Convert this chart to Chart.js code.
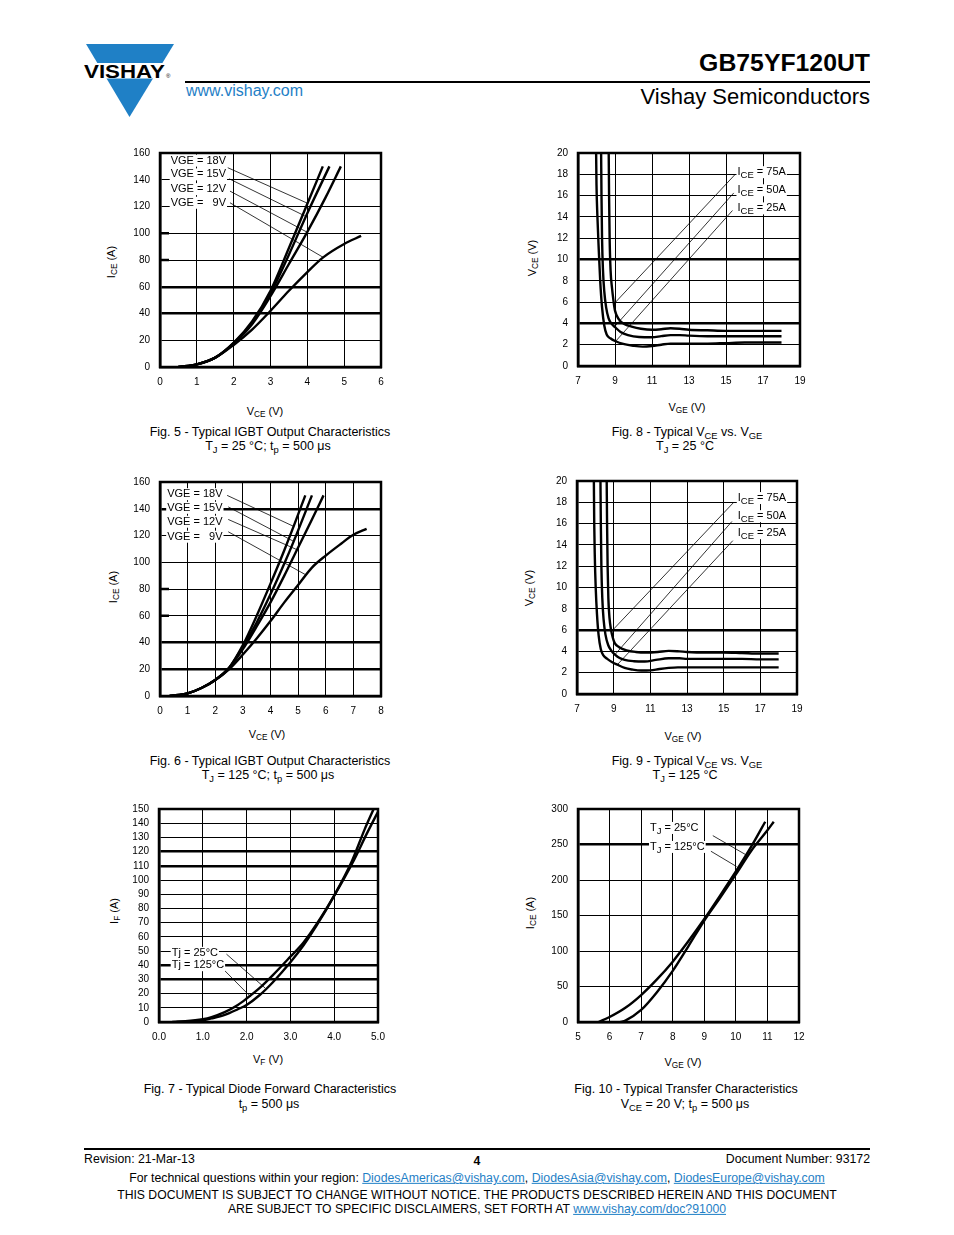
<!DOCTYPE html>
<html><head><meta charset="utf-8">
<script src="https://cdn.jsdelivr.net/npm/chart.js@4.4.1/dist/chart.umd.min.js"></script>
<style>
body{margin:0;background:#fff;width:954px;height:1235px;position:relative;font-family:"Liberation Sans",Arial,Helvetica,sans-serif;color:#000;overflow:hidden}
.t{position:absolute;white-space:nowrap;line-height:1}
.cc{transform:translate(-50%,-50%)}
.rc{transform:translate(-100%,-50%)}
.lc{transform:translate(0,-50%)}
.rot{transform:translate(-50%,-50%) rotate(-90deg)}
.s{font-size:0.75em;position:relative;top:0.3em}
.ax{font-size:11px}
.cap{font-size:12.5px;text-align:center}
.blue{color:#1f80c6}
a{color:#1f80c6;text-decoration:underline}
.hr{position:absolute;background:#000}
</style></head><body>

<!-- header -->
<svg style="position:absolute;left:0;top:0" width="200" height="125">
  <polygon points="86,44 174,44 129.5,117" fill="#1f80c6"/>
  <rect x="80" y="63" width="100" height="15.5" fill="#fff"/>
  <text x="84" y="78" font-family="Liberation Sans, Arial, sans-serif" font-weight="bold" font-size="18" textLength="81" lengthAdjust="spacingAndGlyphs">VISHAY</text>
  <text x="166" y="78" font-family="Liberation Sans, Arial, sans-serif" font-size="6">®</text>
</svg>
<div class="hr" style="left:185px;top:81px;width:685px;height:2px"></div>
<div class="t lc blue" style="left:186px;top:91px;font-size:16px">www.vishay.com</div>
<div class="t rc" style="left:870px;top:63px;font-size:24.8px;font-weight:bold">GB75YF120UT</div>
<div class="t rc" style="left:870px;top:97px;font-size:22px">Vishay Semiconductors</div>

<!-- axis titles -->
<div class="t cc ax" style="left:265px;top:412px">V<span class="s">CE</span> (V)</div>
<div class="t rot ax" style="left:112px;top:262px">I<span class="s">CE</span> (A)</div>
<div class="t cc ax" style="left:687px;top:408px">V<span class="s">GE</span> (V)</div>
<div class="t rot ax" style="left:533px;top:258px">V<span class="s">CE</span> (V)</div>
<div class="t cc ax" style="left:267px;top:735px">V<span class="s">CE</span> (V)</div>
<div class="t rot ax" style="left:114px;top:587px">I<span class="s">CE</span> (A)</div>
<div class="t cc ax" style="left:683px;top:737px">V<span class="s">GE</span> (V)</div>
<div class="t rot ax" style="left:530px;top:588px">V<span class="s">CE</span> (V)</div>
<div class="t cc ax" style="left:268px;top:1060px">V<span class="s">F</span> (V)</div>
<div class="t rot ax" style="left:115px;top:911px">I<span class="s">F</span> (A)</div>
<div class="t cc ax" style="left:683px;top:1063px">V<span class="s">GE</span> (V)</div>
<div class="t rot ax" style="left:531px;top:913px">I<span class="s">CE</span> (A)</div>

<!-- captions -->
<div class="t cc cap" style="left:270px;top:432px">Fig. 5 - Typical IGBT Output Characteristics</div>
<div class="t cc cap" style="left:268px;top:446px">T<span class="s">J</span> = 25 °C; t<span class="s">p</span> = 500 μs</div>
<div class="t cc cap" style="left:687px;top:432px">Fig. 8 - Typical V<span class="s">CE</span> vs. V<span class="s">GE</span></div>
<div class="t cc cap" style="left:685px;top:446px">T<span class="s">J</span> = 25 °C</div>
<div class="t cc cap" style="left:270px;top:761px">Fig. 6 - Typical IGBT Output Characteristics</div>
<div class="t cc cap" style="left:268px;top:775px">T<span class="s">J</span> = 125 °C; t<span class="s">p</span> = 500 μs</div>
<div class="t cc cap" style="left:687px;top:761px">Fig. 9 - Typical V<span class="s">CE</span> vs. V<span class="s">GE</span></div>
<div class="t cc cap" style="left:685px;top:775px">T<span class="s">J</span> = 125 °C</div>
<div class="t cc cap" style="left:270px;top:1089px">Fig. 7 - Typical Diode Forward Characteristics</div>
<div class="t cc cap" style="left:269px;top:1104px">t<span class="s">p</span> = 500 μs</div>
<div class="t cc cap" style="left:686px;top:1089px">Fig. 10 - Typical Transfer Characteristics</div>
<div class="t cc cap" style="left:685px;top:1104px">V<span class="s">CE</span> = 20 V; t<span class="s">p</span> = 500 μs</div>

<!-- footer -->
<div class="hr" style="left:84px;top:1148px;width:786px;height:2px"></div>
<div class="t lc" style="left:84px;top:1159px;font-size:12.3px">Revision: 21-Mar-13</div>
<div class="t cc" style="left:477px;top:1161px;font-size:12.3px;font-weight:bold">4</div>
<div class="t rc" style="left:870px;top:1159px;font-size:12.3px">Document Number: 93172</div>
<div class="t cc" style="left:477px;top:1178px;font-size:12.3px">For technical questions within your region: <a>DiodesAmericas@vishay.com</a>, <a>DiodesAsia@vishay.com</a>, <a>DiodesEurope@vishay.com</a></div>
<div class="t cc" style="left:477px;top:1195px;font-size:12.2px">THIS DOCUMENT IS SUBJECT TO CHANGE WITHOUT NOTICE. THE PRODUCTS DESCRIBED HEREIN AND THIS DOCUMENT</div>
<div class="t cc" style="left:477px;top:1209px;font-size:12.2px">ARE SUBJECT TO SPECIFIC DISCLAIMERS, SET FORTH AT <a>www.vishay.com/doc?91000</a></div>

<script>
const FONT = '"Liberation Sans", Arial, Helvetica, sans-serif';

// ---------- Fig. 5 : IGBT output, TJ = 25 °C ----------
const fig5XTicks = [0,1,2,3,4,5,6];
const fig5YTicks = [0,20,40,60,80,100,120,140,160];
const fig5_18V_x = [0.5,1,1.5,2,2.5,3,3.5,4,4.42];
const fig5_18V_y = [0,2,7,18,34,57,89,122,150];
const fig5_15V_x = [0.5,1,1.5,2,2.5,3,3.5,4,4.6];
const fig5_15V_y = [0,2,7,18,33,55,84,115,150];
const fig5_12V_x = [0.5,1,1.5,2,2.5,3,3.5,4,4.5,4.91];
const fig5_12V_y = [0,2,7,17.5,32,53,77,101,127,150];
const fig5_9V_x  = [0.5,1,1.5,2,2.5,3,3.5,4,4.43,5,5.46];
const fig5_9V_y  = [0,2,7,16.5,28,42,57,71,82,92,98];

// ---------- Fig. 6 : IGBT output, TJ = 125 °C ----------
const fig6XTicks = [0,1,2,3,4,5,6,7,8];
const fig6YTicks = [0,20,40,60,80,100,120,140,160];
const fig6_18V_x = [0.35,1,1.5,2,2.5,3,3.5,4,4.5,4.84,5.26];
const fig6_18V_y = [0,2,6,12,21,38,60,84,109,127,150];
const fig6_15V_x = [0.35,1,1.5,2,2.5,3,3.5,4,4.5,4.84,5.5];
const fig6_15V_y = [0,2,6,12,21,37,55,76,99,115.6,150];
const fig6_12V_x = [0.35,1,1.5,2,2.5,3,3.5,4,4.5,4.96,5.5,5.92];
const fig6_12V_y = [0,2,6,12,21,35,52,70,90,109.4,132,150];
const fig6_9V_x  = [0.35,1,1.5,2,2.5,3,3.5,4,4.5,5,5.5,6,6.5,7,7.48];
const fig6_9V_y  = [0,2,6,12,20,31,43,56,70,83,96,105,113,120.5,125];

// ---------- Fig. 8 : VCE vs VGE, TJ = 25 °C ----------
const fig8XTicks = [7,9,11,13,15,17,19];
const fig8YTicks = [0,2,4,6,8,10,12,14,16,18,20];
const fig8_75A_x = [8.66,8.68,8.71,8.76,8.84,8.92,9.0,9.2,9.5,9.9,10.4,11,11.5,12,12.5,13,14,15,16,17,18];
const fig8_75A_y = [20,16,12,9,7.3,6.1,5.2,4.4,3.95,3.7,3.5,3.4,3.45,3.55,3.5,3.4,3.35,3.3,3.3,3.3,3.3];
const fig8_50A_x = [8.25,8.27,8.3,8.35,8.42,8.52,8.65,8.8,9.0,9.3,9.7,10.3,11,11.5,12,12.5,13,14,15,16,17,18];
const fig8_50A_y = [20,16,12,9,7,5.5,4.5,4.0,3.65,3.2,2.9,2.72,2.7,2.8,2.9,2.9,2.85,2.8,2.8,2.8,2.8,2.8];
const fig8_25A_x = [7.98,8.0,8.05,8.12,8.2,8.3,8.42,8.55,8.75,9.0,9.5,10,10.5,11,11.5,12,13,14,15,16,17,18];
const fig8_25A_y = [20,17,14,11,8,5.5,3.8,2.95,2.6,2.35,2.05,1.9,1.82,1.88,2.0,2.1,2.1,2.1,2.15,2.2,2.2,2.2];

// ---------- Fig. 9 : VCE vs VGE, TJ = 125 °C ----------
const fig9XTicks = [7,9,11,13,15,17,19];
const fig9YTicks = [0,2,4,6,8,10,12,14,16,18,20];
const fig9_75A_x = [8.62,8.64,8.67,8.71,8.77,8.86,8.95,9.05,9.3,9.7,10.2,10.8,11.4,12,12.6,13,14,15,16,17,18];
const fig9_75A_y = [20,16,12,9,7.2,6.0,5.3,4.8,4.4,4.1,3.95,3.9,3.95,4.05,4.0,3.95,3.9,3.9,3.85,3.8,3.8];
const fig9_50A_x = [8.28,8.3,8.33,8.38,8.45,8.55,8.7,8.9,9.07,9.3,9.6,10.1,10.7,11.3,12,12.6,13,14,15,16,17,18];
const fig9_50A_y = [20,16,12,9,7,5.6,4.6,4.0,3.7,3.4,3.2,3.08,3.05,3.2,3.35,3.35,3.3,3.3,3.3,3.3,3.25,3.25];
const fig9_25A_x = [7.92,7.94,7.97,8.02,8.09,8.18,8.3,8.45,8.65,8.9,9.2,9.6,10,10.5,11,11.5,12,12.5,13,14,15,16,17,18];
const fig9_25A_y = [20,16,13,10,7.5,5.5,4.2,3.6,3.3,3.0,2.75,2.45,2.3,2.2,2.22,2.35,2.45,2.5,2.5,2.5,2.5,2.5,2.5,2.5];

// ---------- Fig. 7 : Diode forward ----------
const fig7XTicks = [0,1,2,3,4,5];
const fig7YTicks = [0,10,20,30,40,50,60,70,80,90,100,110,120,130,140,150];
const fig7_25C_x  = [0.4,0.8,1.0,1.2,1.5,1.8,2.0,2.3,2.6,3.0,3.3,3.6,4.0,4.4,4.7,4.9];
const fig7_25C_y  = [0,0.5,1.2,2.5,5,9,12,19,28,42,54,68,89,113,136,150];
const fig7_125C_x = [0.3,0.6,1.0,1.2,1.5,1.8,2.0,2.3,2.6,3.0,3.3,3.6,4.0,4.45,4.75,5.0];
const fig7_125C_y = [0,0.5,2,3.5,7,12,16.5,24,33,46,56,69,89,114,133,148];

// ---------- Fig. 10 : Transfer ----------
const fig10XTicks = [5,6,7,8,9,10,11,12];
const fig10YTicks = [0,50,100,150,200,250,300];
const fig10_25C_x  = [5.65,6,6.5,7,7.5,8,8.5,9,9.5,10,10.5,10.93];
const fig10_25C_y  = [0,7,20,38,60,85,114,145,178,212,248,282];
const fig10_125C_x = [6.35,6.5,7,7.5,8,8.5,9,9.5,10,10.5,11,11.2];
const fig10_125C_y = [0,2,17,42,72,107,143,175,208,242,270,282];

// ---------- drawing ----------
const annotPlugin = {
  id: 'annot',
  afterDatasetsDraw(chart, args, o) {
    const {ctx, chartArea: a, scales: {x, y}} = chart;
    ctx.save();
    ctx.strokeStyle = '#000';
    (o.stubs || []).forEach(v => {
      const py = y.getPixelForValue(v);
      ctx.lineWidth = 2.5; ctx.beginPath(); ctx.moveTo(a.left, py); ctx.lineTo(a.left + 9, py); ctx.stroke();
    });
    ctx.lineWidth = 0.8;
    (o.leaders || []).forEach(l => {
      ctx.beginPath();
      ctx.moveTo(x.getPixelForValue(l[0]), y.getPixelForValue(l[1]));
      ctx.lineTo(x.getPixelForValue(l[2]), y.getPixelForValue(l[3]));
      ctx.stroke();
    });
    (o.labels || []).forEach(lb => {
      const px = x.getPixelForValue(lb.x), py = y.getPixelForValue(lb.y);
      let w = 0;
      lb.parts.forEach(p => { ctx.font = (p.sub ? '9.5px ' : '11px ') + FONT; p.w = ctx.measureText(p.t).width; w += p.w; });
      ctx.fillStyle = '#fff'; ctx.fillRect(px - 1, py - 6, w + 2, 12);
      ctx.fillStyle = '#000'; ctx.textBaseline = 'middle'; ctx.textAlign = 'left';
      let cx = px;
      lb.parts.forEach(p => { ctx.font = (p.sub ? '9.5px ' : '11px ') + FONT; ctx.fillText(p.t, cx, p.sub ? py + 3 : py); cx += p.w; });
    });
    ctx.lineWidth = 2.5;
    ctx.strokeRect(a.left, a.top, a.right - a.left, a.bottom - a.top);
    ctx.restore();
  }
};

function series(xs, ys) { return xs.map((v, i) => ({x: v, y: ys[i]})); }

function makeChart(cfg) {
  const padL = 45, padT = 18, padR = 16, padB = 28;
  const W = cfg.R - cfg.L, H = cfg.B - cfg.T;
  const cv = document.createElement('canvas');
  cv.width = W + padL + padR; cv.height = H + padT + padB;
  cv.style.cssText = `position:absolute;left:${cfg.L - padL}px;top:${cfg.T - padT}px;width:${cv.width}px;height:${cv.height}px`;
  document.body.appendChild(cv);
  const tickFont = {family: FONT, size: 10};
  const gridW = thick => ctx => (ctx.tick && thick.includes(ctx.tick.value)) ? 2.5 : 1;
  new Chart(cv, {
    type: 'scatter',
    data: {datasets: cfg.series.map(s => ({
      data: series(s[0], s[1]), showLine: true, borderColor: '#000', borderWidth: 2.4,
      pointRadius: 0, pointHoverRadius: 0, cubicInterpolationMode: 'monotone', fill: false
    }))},
    options: {
      responsive: false, animation: false, events: [],
      layout: {padding: {top: padT, right: padR, left: 0, bottom: 0}},
      plugins: {legend: {display: false}, tooltip: {enabled: false},
        annot: {labels: cfg.labels, leaders: cfg.leaders, stubs: cfg.stubs || []}},
      scales: {
        x: {type: 'linear', min: cfg.xTicks[0], max: cfg.xTicks[cfg.xTicks.length - 1],
          afterBuildTicks: sc => { sc.ticks = cfg.xTicks.map(v => ({value: v})); },
          afterFit: sc => { sc.height = padB; },
          grid: {color: '#000', lineWidth: gridW([]), drawTicks: false},
          border: {display: true, color: '#000', width: 2.5},
          ticks: {color: '#000', font: tickFont, padding: 9, autoSkip: false, maxRotation: 0,
            callback: v => cfg.xFmt ? cfg.xFmt(v) : String(v)}},
        y: {type: 'linear', min: cfg.yTicks[0], max: cfg.yTicks[cfg.yTicks.length - 1],
          afterBuildTicks: sc => { sc.ticks = cfg.yTicks.map(v => ({value: v})); },
          afterFit: sc => { sc.width = padL; },
          grid: {color: '#000', lineWidth: gridW(cfg.thickY), drawTicks: false},
          border: {display: true, color: '#000', width: 2.5},
          ticks: {color: '#000', font: tickFont, padding: 10, autoSkip: false,
            callback: v => String(v)}}
      }
    },
    plugins: [annotPlugin]
  });
}

const P = t => ({t});
const S = t => ({t, sub: true});

makeChart({L: 160, T: 153, R: 381, B: 367, xTicks: fig5XTicks, yTicks: fig5YTicks, thickY: [40, 60], stubs: [80, 100],
  series: [[fig5_18V_x, fig5_18V_y], [fig5_15V_x, fig5_15V_y], [fig5_12V_x, fig5_12V_y], [fig5_9V_x, fig5_9V_y]],
  labels: [{x: 0.29, y: 154.3, parts: [P('VGE = 18V')]}, {x: 0.29, y: 144, parts: [P('VGE = 15V')]},
           {x: 0.29, y: 133, parts: [P('VGE = 12V')]}, {x: 0.29, y: 122.8, parts: [P('VGE =   9V')]}],
  leaders: [[1.84, 149, 4.0, 122.5], [1.88, 140.7, 3.93, 113], [1.9, 131.5, 3.98, 101], [1.9, 122.8, 4.43, 82]]});

makeChart({L: 578, T: 153, R: 800, B: 366, xTicks: fig8XTicks, yTicks: fig8YTicks, thickY: [4, 10],
  series: [[fig8_75A_x, fig8_75A_y], [fig8_50A_x, fig8_50A_y], [fig8_25A_x, fig8_25A_y]],
  labels: [{x: 15.62, y: 18.2, parts: [P('I'), S('CE'), P(' = 75A')]}, {x: 15.62, y: 16.5, parts: [P('I'), S('CE'), P(' = 50A')]},
           {x: 15.62, y: 14.8, parts: [P('I'), S('CE'), P(' = 25A')]}],
  leaders: [[15.5, 18.0, 8.98, 5.9], [15.42, 16.25, 8.98, 3.7], [15.35, 14.6, 9.05, 2.35]]});

makeChart({L: 160, T: 482, R: 381, B: 696, xTicks: fig6XTicks, yTicks: fig6YTicks, thickY: [20, 40, 140], stubs: [60, 80],
  series: [[fig6_18V_x, fig6_18V_y], [fig6_15V_x, fig6_15V_y], [fig6_12V_x, fig6_12V_y], [fig6_9V_x, fig6_9V_y]],
  labels: [{x: 0.26, y: 150.9, parts: [P('VGE = 18V')]}, {x: 0.26, y: 140.7, parts: [P('VGE = 15V')]},
           {x: 0.26, y: 130.3, parts: [P('VGE = 12V')]}, {x: 0.26, y: 119.1, parts: [P('VGE =   9V')]}],
  leaders: [[2.43, 150, 4.84, 126.8], [2.47, 141.4, 4.84, 115.6], [2.47, 132, 4.96, 109.4], [2.47, 122.8, 5.26, 90.8]]});

makeChart({L: 577, T: 481, R: 797, B: 694, xTicks: fig9XTicks, yTicks: fig9YTicks, thickY: [6],
  series: [[fig9_75A_x, fig9_75A_y], [fig9_50A_x, fig9_50A_y], [fig9_25A_x, fig9_25A_y]],
  labels: [{x: 15.77, y: 18.4, parts: [P('I'), S('CE'), P(' = 75A')]}, {x: 15.77, y: 16.7, parts: [P('I'), S('CE'), P(' = 50A')]},
           {x: 15.77, y: 15.1, parts: [P('I'), S('CE'), P(' = 25A')]}],
  leaders: [[15.55, 18.0, 9.0, 6.1], [15.45, 16.2, 9.07, 3.7], [15.5, 14.4, 9.2, 2.75]]});

makeChart({L: 159, T: 809, R: 378, B: 1022, xTicks: fig7XTicks, yTicks: fig7YTicks, thickY: [30, 40, 110, 120],
  xFmt: v => v.toFixed(1),
  series: [[fig7_25C_x, fig7_25C_y], [fig7_125C_x, fig7_125C_y]],
  labels: [{x: 0.29, y: 48.7, parts: [P('Tj = 25°C')]}, {x: 0.29, y: 40, parts: [P('Tj = 125°C')]}],
  leaders: [[1.54, 47.8, 2.42, 24], [1.49, 36.5, 2.1, 17.5]]});

makeChart({L: 578, T: 809, R: 799, B: 1022, xTicks: fig10XTicks, yTicks: fig10YTicks, thickY: [250],
  series: [[fig10_25C_x, fig10_25C_y], [fig10_125C_x, fig10_125C_y]],
  labels: [{x: 7.28, y: 273.3, parts: [P('T'), S('J'), P(' = 25°C')]}, {x: 7.28, y: 246.6, parts: [P('T'), S('J'), P(' = 125°C')]}],
  leaders: [[9.27, 262.5, 10.3, 236], [9.21, 240.5, 10.02, 219]]});
</script>
</body></html>
